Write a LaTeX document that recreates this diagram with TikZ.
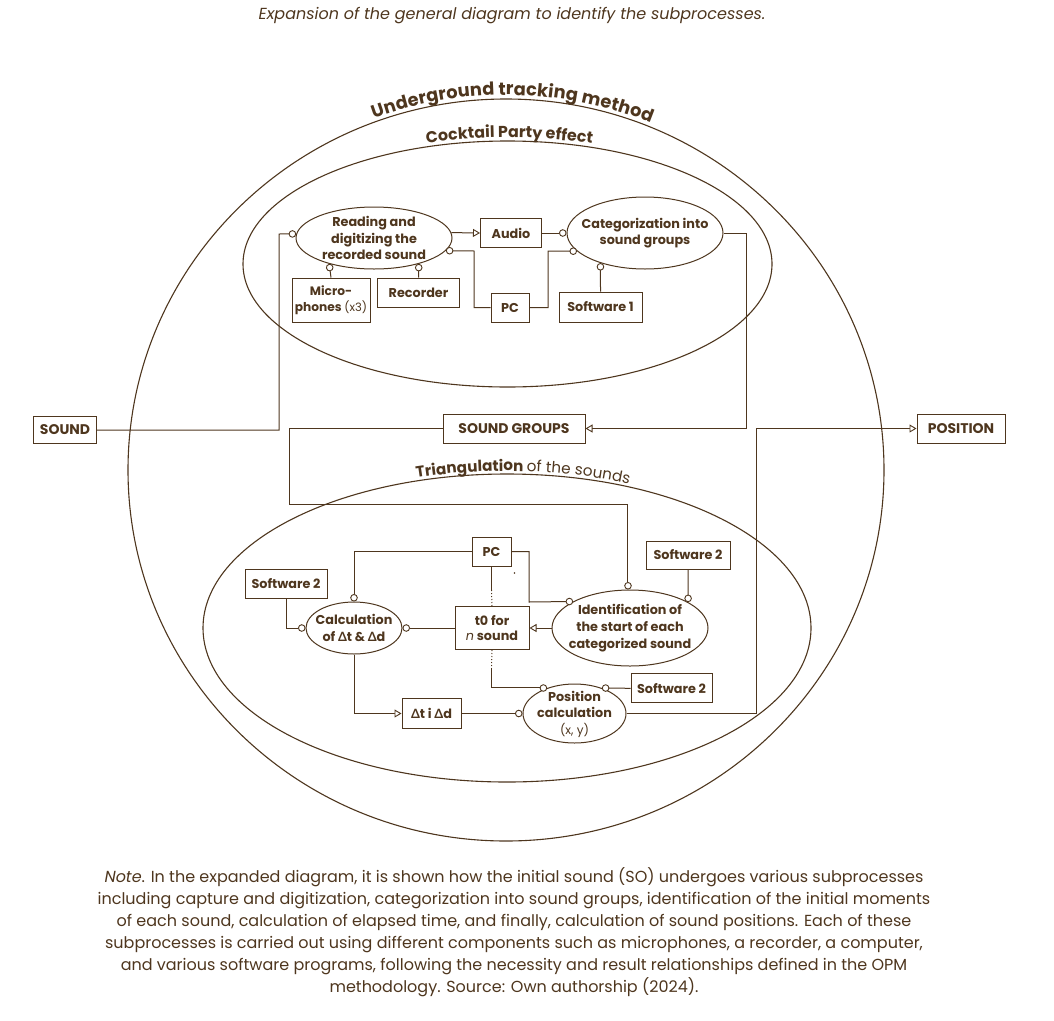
\documentclass[tikz,border=0pt]{standalone}
\usepackage{fontspec}
\setmainfont{Poppins}
\newfontfamily\dfont{Lato}
\usetikzlibrary{shapes.geometric,arrows.meta,decorations.text}
\definecolor{br}{RGB}{78,54,30}
\newcommand\fsz[2]{\fontsize{#1}{#2}\selectfont}
\newcommand\Dl{{\dfont\bfseries Δ}}
\begin{document}
\begin{tikzpicture}[x=1pt,y=-1pt,
  box/.style={draw=br, line width=1pt, rectangle, inner sep=0pt, text=br, font=\fsz{12.8}{16}\bfseries, align=center},
  capbox/.style={box, font=\fsz{14}{16}\bfseries},
  proc/.style={draw=br, line width=1pt, ellipse, inner sep=0pt},
  ptext/.style={inner sep=0pt, text=br, font=\fsz{12.8}{16.5}\bfseries, align=center},
  ln/.style={draw=br, line width=1pt},
  arr/.style={ln, -{Triangle[length=7pt,width=8pt,fill=white,line width=0.9pt]}},
  circ/.style={ln, -{Circle[length=7.5pt,fill=white,line width=0.9pt]}},
  ring/.style={draw=br, line width=1.1pt},
  notetext/.style={inner sep=0pt, text=br, font=\fsz{16}{22}, anchor=base}
]
\useasboundingbox (0,0) rectangle (1054,1020);

% title
\node[notetext] (title) at (512,19) {\itshape Expansion of the general diagram to identify the subprocesses.};

% big ellipses
\draw[ring] (506,470) ellipse [x radius=378, y radius=371];
\draw[ring] (507.5,264) ellipse [x radius=264.5, y radius=123];
\draw[ring] (507,628) ellipse [x radius=304, y radius=154];

% curved titles
\path[decorate, decoration={text along path, text color=br, text align=center, raise=4pt,
  text={|\fsz{17.8}{18}\bfseries|Underground tracking method}}]
  (506,470) ++(-124:378 and 371) arc[start angle=-124, end angle=-54, x radius=378, y radius=371];
\path[decorate, decoration={text along path, text color=br, text align=center, raise=3.5pt,
  text={|\fsz{15.8}{16}\bfseries|Cocktail Party effect}}]
  (507.5,264) ++(-130:264.5 and 123) arc[start angle=-130, end angle=-49, x radius=264.5, y radius=123];
\path[decorate, decoration={text along path, text color=br, text align=center, raise=3pt,
  text={|\fsz{15.2}{16}\bfseries|Triangulation |\fsz{15.2}{16}\mdseries|of the sounds}}]
  (507,628) ++(-122:304 and 154) arc[start angle=-122, end angle=-51, x radius=304, y radius=154];

% outer boxes
\node[capbox, minimum width=63, minimum height=27] (sound) at (65,430) {SOUND};
\node[capbox, minimum width=142, minimum height=29] (sgroups) at (514,428.5) {SOUND GROUPS};
\node[capbox, minimum width=88, minimum height=29] (position) at (961,428.5) {POSITION};

% upper subprocess
\node[proc, minimum width=156, minimum height=62] (read) at (374,238) {};
\node[ptext] (readt) at (374,238) {Reading and\\digitizing the\\recorded sound};
\node[box, minimum width=61, minimum height=29] (audio) at (511,233) {Audio};
\node[proc, minimum width=156, minimum height=72] (categ) at (645,233) {};
\node[ptext] (categt) at (645,233) {Categorization into\\sound groups};
\node[box, minimum width=78, minimum height=44, font=\fsz{12.2}{16}\bfseries] (micro) at (331,300) {Micro-\\phones {\mdseries\fsz{11.5}{16}(x3)}};
\node[box, minimum width=82, minimum height=29] (recorder) at (418.5,292.5) {Recorder};
\node[box, minimum width=38, minimum height=29] (pc1) at (510,307.5) {PC};
\node[box, minimum width=83, minimum height=30] (sw1) at (600.5,307) {Software 1};

\draw[circ] (sound.east) -| (279,234) -- (read.177);
\draw[arr] (read.4) -- (audio.west);
\draw[circ] (pc1.west) -| (474,251) -- (read.-10);
\draw[circ] (audio.east) -- (categ.west);
\draw[circ] (pc1.east) -| (548,251) -- (categ.-165);
\draw[circ] (sw1.north) -- (categ.-146);
\draw[arr] (categ.east) -| (746,428.5) -- (sgroups.east);
\draw[circ] (micro.north) -- (read.-150);
\draw[circ] (recorder.north) -- (read.-30);

% lower subprocess
\node[box, minimum width=39, minimum height=29] (pc2) at (491.5,551.5) {PC};
\node[box, minimum width=82, minimum height=29] (sw2a) at (286,583.5) {Software 2};
\node[proc, minimum width=96, minimum height=52] (calc) at (354,628) {};
\node[ptext] (calct) at (354,628) {Calculation\\of \Dl t \& \Dl d};
\node[box, minimum width=74, minimum height=43, font=\fsz{12.8}{14.5}\bfseries] (t0) at (492,628) {t0 for\\{\mdseries\itshape n} sound};
\node[proc, minimum width=156, minimum height=76] (ident) at (630,628) {};
\node[ptext, font=\fsz{12.8}{17}\bfseries] (identt) at (630,628) {Identification of\\the start of each\\categorized sound};
\node[box, minimum width=84, minimum height=28] (sw2b) at (688,555) {Software 2};
\node[proc, minimum width=103, minimum height=59] (poscalc) at (574.5,713.5) {};
\node[ptext] (poscalct) at (574.5,714) {Position\\calculation\\{\mdseries\fsz{12}{17}(x, y)}};
\node[box, minimum width=59, minimum height=30] (dtd) at (431.5,713.5) {\Dl t i \Dl d};
\node[box, minimum width=81, minimum height=29] (sw2c) at (671.5,688.3) {Software 2};

\coordinate (d1) at (491.5,590);
\coordinate (d2) at (491.5,668);

\draw[circ] (sgroups.west) -| (289,504) -| (ident.93);
\draw[arr] (ident.west) -- (t0.east);
\draw[circ] (sw2b.south) -- (ident.24);
\draw[circ] (pc2.east) -| (529,602) -- (ident.155);
\draw[circ] (pc2.west) -| (calc.north);
\draw[circ] (sw2a.south) |- (calc.west);
\draw[circ] (t0.west) -- (calc.east);
\draw[ln] (pc2.south) -- (d1);
\draw[ln, dotted] (d1) -- (t0.north);
\draw[ln, dotted] (t0.south) -- (d2);
\draw[circ] (d2) |- (poscalc.137);
\draw[circ] (sw2c.west) -- (poscalc.43);
\draw[arr] (calc.south) |- (dtd.west);
\draw[circ] (dtd.east) -- (poscalc.west);
\draw[arr] (poscalc.east) -| (756,428.5) -- (position.west);
\fill[br] (514.5,573) circle (0.9);

% note
\node[notetext] (n1) at (514,882) {\textit{Note}. In the expanded diagram, it is shown how the initial sound (SO) undergoes various subprocesses};
\node[notetext] (n2) at (514,904) {including capture and digitization, categorization into sound groups, identification of the initial moments};
\node[notetext] (n3) at (514,926) {of each sound, calculation of elapsed time, and finally, calculation of sound positions. Each of these};
\node[notetext] (n4) at (514,948) {subprocesses is carried out using different components such as microphones, a recorder, a computer,};
\node[notetext] (n5) at (514,970) {and various software programs, following the necessity and result relationships defined in the OPM};
\node[notetext] (n6) at (514,992) {methodology. Source: Own authorship (2024).};
\end{tikzpicture}
\end{document}
